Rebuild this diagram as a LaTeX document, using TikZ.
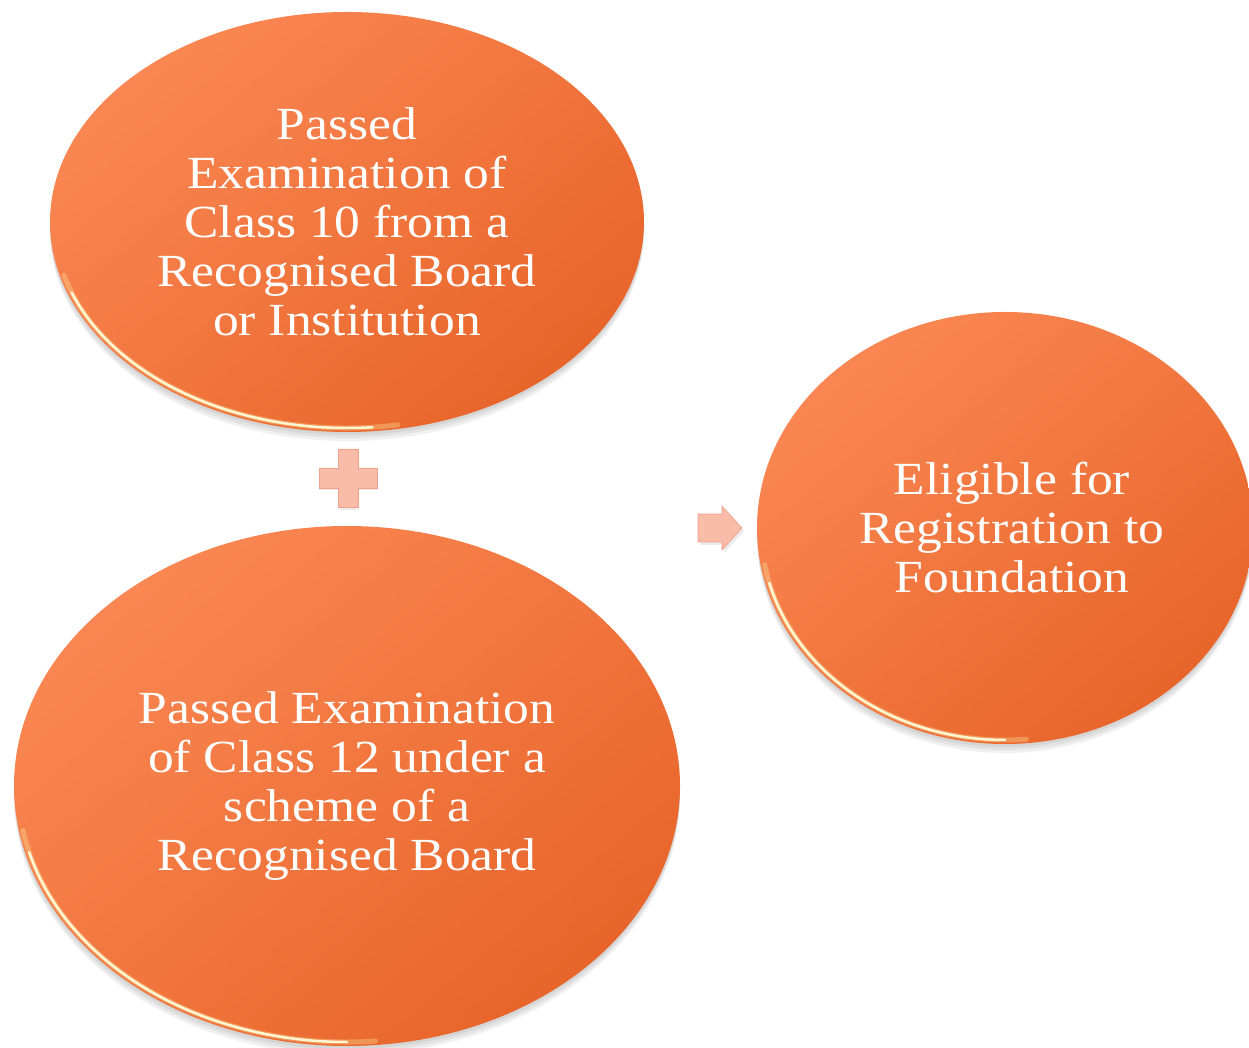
\documentclass[tikz,border=0pt]{standalone}
\usepackage{fontspec}
\setmainfont{Liberation Serif}[FakeStretch=1.12]
\usetikzlibrary{shapes.geometric}
\definecolor{orLight}{HTML}{FA8753}
\definecolor{orDark}{HTML}{E8652A}
\definecolor{sym}{HTML}{F8BCA8}
\definecolor{symDark}{HTML}{F0A28C}
\tikzset{
  oval/.style={ellipse, inner sep=0pt, top color=orLight, bottom color=orDark,
    shading angle=40, text=white, align=center,
    font=\fontsize{46}{49}\selectfont},
  rimA/.style={draw=white!70!yellow, line width=5pt, opacity=0.3, line cap=round},
  rimB/.style={draw=white!85!yellow, line width=2.5pt, opacity=0.95, line cap=round},
  shad/.style={fill=black, opacity=0.06},
  symbol/.style={fill=sym, draw=symDark, line width=0.6pt},
}
\begin{document}
\begin{tikzpicture}[x=1pt,y=1pt]
\useasboundingbox (0,0) rectangle (1249,1047);
% shadows
\foreach \d in {3,6,9}{
  \fill[shad] (347,825-\d) ellipse [x radius=297, y radius=210];
  \fill[shad] (347,261-\d) ellipse [x radius=333, y radius=260];
  \fill[shad] (1005,519-\d) ellipse [x radius=248, y radius=216];
}
\node[oval, minimum width=594pt, minimum height=420pt] (top) at (347,825)
  {\raisebox{0pt}{}Passed\\Examination of\\Class 10 from a\\Recognised Board\\or Institution};
\node[oval, minimum width=666pt, minimum height=520pt] (bot) at (347,261)
  {Passed Examination\\of Class 12 under a\\scheme of a\\Recognised Board};
\node[oval, minimum width=496pt, minimum height=432pt] (res) at (1005,519)
  {\hspace*{14pt}Eligible for\\\hspace*{14pt}Registration to\\\hspace*{14pt}Foundation};
% rims
\draw[rimA] (top.center) ++(195:293 and 206) arc[start angle=195, end angle=280, x radius=293, y radius=206];
\draw[rimB] (top.center) ++(200:293 and 206) arc[start angle=200, end angle=275, x radius=293, y radius=206];
\draw[rimA] (bot.center) ++(190:329 and 256) arc[start angle=190, end angle=275, x radius=329, y radius=256];
\draw[rimB] (bot.center) ++(195:329 and 256) arc[start angle=195, end angle=270, x radius=329, y radius=256];
\draw[rimA] (res.center) ++(190:244 and 212) arc[start angle=190, end angle=275, x radius=244, y radius=212];
\draw[rimB] (res.center) ++(195:244 and 212) arc[start angle=195, end angle=270, x radius=244, y radius=212];
% plus
\coordinate (plus) at (348,569);
\fill[black,opacity=0.08] (plus) ++(-9,-32) -- ++(18,0) -- ++(0,20) -- ++(20,0) -- ++(0,18) -- ++(-20,0) -- ++(0,20) -- ++(-18,0) -- ++(0,-20) -- ++(-20,0) -- ++(0,-18) -- ++(20,0) -- cycle;
\path[symbol] (plus) ++(-10,-29) -- ++(20,0) -- ++(0,19) -- ++(19,0) -- ++(0,20) -- ++(-19,0) -- ++(0,19) -- ++(-20,0) -- ++(0,-19) -- ++(-19,0) -- ++(0,-20) -- ++(19,0) -- cycle;
% arrow
\coordinate (arr) at (698,519);
\fill[black,opacity=0.08] (arr) ++(2,-17) -- ++(24,0) -- ++(0,-8) -- ++(20,22) -- ++(-20,22) -- ++(0,-8) -- ++(-24,0) -- cycle;
\path[symbol] (arr) ++(0,-14) -- ++(24,0) -- ++(0,-8) -- ++(20,22) -- ++(-20,22) -- ++(0,-8) -- ++(-24,0) -- cycle;
\end{tikzpicture}
\end{document}
